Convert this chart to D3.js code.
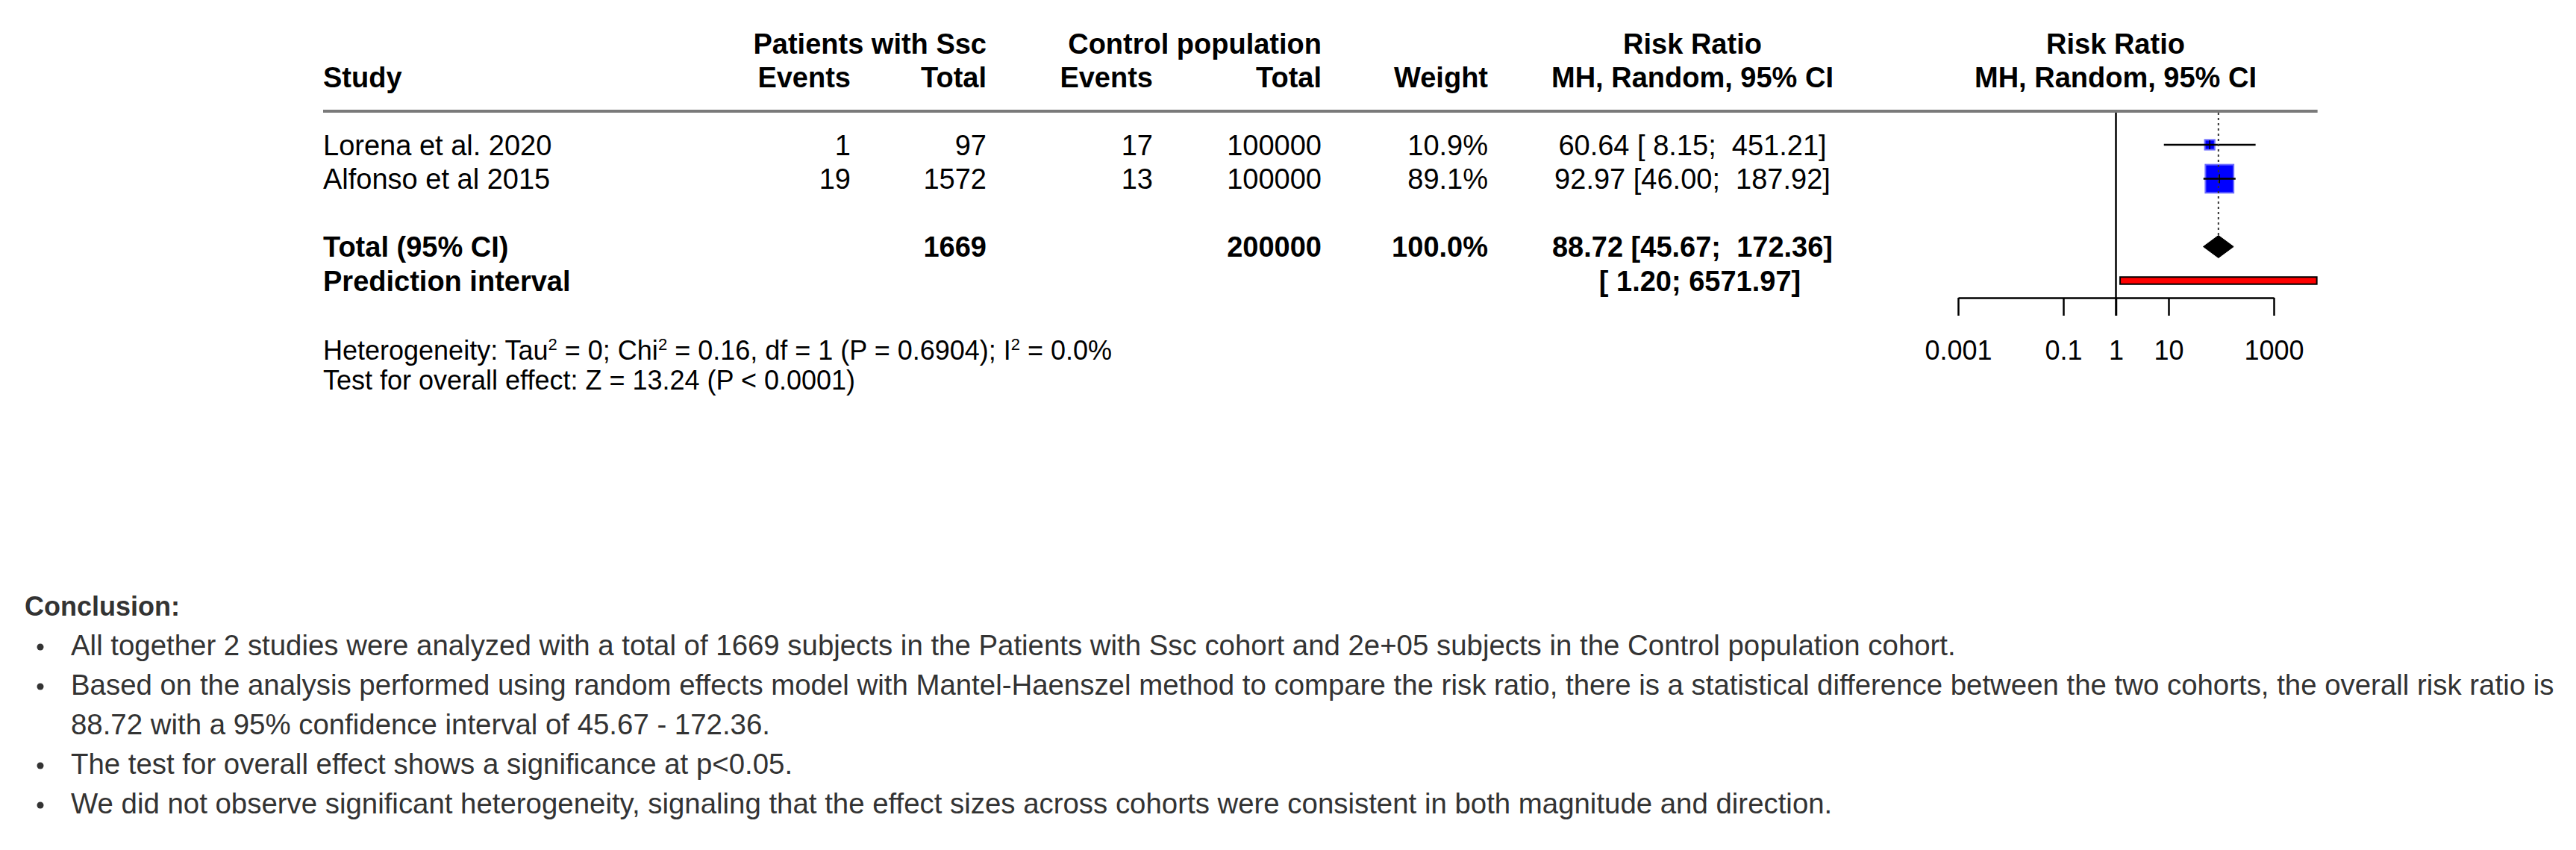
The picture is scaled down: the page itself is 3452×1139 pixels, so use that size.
<!DOCTYPE html>
<html><head><meta charset="utf-8">
<script src="https://cdn.jsdelivr.net/npm/d3@7"></script>
<style>
body{margin:0;background:#fff}
text{font-family:"Liberation Sans",Arial,Helvetica,sans-serif;white-space:pre}
</style>
</head><body>
<svg id="chart" width="3452" height="1139"></svg>
<script>
// ---------------- data ----------------
const studies   = ["Lorena et al. 2020", "Alfonso et al 2015"];
const expEvents = [1, 19];
const expTotal  = [97, 1572];
const ctlEvents = [17, 13];
const ctlTotal  = [100000, 100000];
const weights   = [10.9, 89.1];
const rr        = [60.64, 92.97];
const rrLower   = [8.15, 46.00];
const rrUpper   = [451.21, 187.92];
const pooledRR  = [88.72, 45.67, 172.36];      // estimate, lower, upper
const predInt   = [1.20, 6571.97];
const totalRow  = ["Total (95% CI)", "1669", "200000", "100.0%"];
const predLabel = "Prediction interval";
const headTop   = ["Patients with Ssc", "Control population", "Risk Ratio", "Risk Ratio"];
const headBot   = ["Study", "Events", "Total", "Events", "Total", "Weight", "MH, Random, 95% CI", "MH, Random, 95% CI"];
const tickValues = [0.001, 0.1, 1, 10, 1000];
const tickLabels = ["0.001", "0.1", "1", "10", "1000"];
const hetParts = [["Heterogeneity: Tau", 0], ["2", 1], [" = 0; Chi", 0], ["2", 1], [" = 0.16, df = 1 (P = 0.6904); I", 0], ["2", 1], [" = 0.0%", 0]];
const overallText = "Test for overall effect: Z = 13.24 (P < 0.0001)";
const conclusionTitle = "Conclusion:";
const conclusionLines = [
  ["All together 2 studies were analyzed with a total of 1669 subjects in the Patients with Ssc cohort and 2e+05 subjects in the Control population cohort.", true],
  ["Based on the analysis performed using random effects model with Mantel-Haenszel method to compare the risk ratio, there is a statistical difference between the two cohorts, the overall risk ratio is", true],
  ["88.72 with a 95% confidence interval of 45.67 - 172.36.", false],
  ["The test for overall effect shows a significance at p<0.05.", true],
  ["We did not observe significant heterogeneity, signaling that the effect sizes across cohorts were consistent in both magnitude and direction.", true]
];

// ---------------- helpers ----------------
const f2 = v => v.toFixed(2);
const padL = (s, n) => s.length >= n ? s : " ".repeat(n - s.length) + s;
const ciText = (e, lo, hi) => `${f2(e)} [${padL(f2(lo), 5)}; ${padL(f2(hi), 7)}]`;

const svg = d3.select("#chart");
const FS = 38;           // table font size
const capHalf = 13.5;    // half cap-height, to centre text on a row
const col = {label: 433, expE: 1140, expT: 1322, ctlE: 1545, ctlT: 1771, w: 1994, ci: 2268, plot: 2835};
const rowY = d3.scaleLinear().domain([0, 1]).range([194, 239.5]);
const x = d3.scaleLog().domain([0.001, 1000]).range([2624, 3047]);
const box = d3.scaleSqrt().domain([0, 100]).range([0, 40]);

function txt(g, px, py, s, anchor = "start", weight = "normal", size = FS, fill = "#000") {
  return g.append("text").attr("x", px).attr("y", py)
    .attr("text-anchor", anchor).attr("font-weight", weight)
    .attr("font-size", size).attr("fill", fill).text(s);
}

// ---------------- header ----------------
const head = svg.append("g");
txt(head, col.expT, 72, headTop[0], "end", "bold");
txt(head, col.ctlT, 72, headTop[1], "end", "bold");
txt(head, col.ci, 72, headTop[2], "middle", "bold");
txt(head, col.plot, 72, headTop[3], "middle", "bold");
const botX = [col.label, col.expE, col.expT, col.ctlE, col.ctlT, col.w, col.ci, col.plot];
const botA = ["start", "end", "end", "end", "end", "end", "middle", "middle"];
headBot.forEach((h, i) => txt(head, botX[i], 117, h, botA[i], "bold"));

svg.append("line").attr("x1", col.label).attr("x2", x(predInt[1]) + 1)
  .attr("y1", 149).attr("y2", 149).attr("stroke", "#7a7a7a").attr("stroke-width", 4);

// ---------------- study rows ----------------
const body = svg.append("g");
studies.forEach((s, i) => {
  const y = rowY(i) + capHalf;
  txt(body, col.label, y, s);
  txt(body, col.expE, y, String(expEvents[i]), "end");
  txt(body, col.expT, y, String(expTotal[i]), "end");
  txt(body, col.ctlE, y, String(ctlEvents[i]), "end");
  txt(body, col.ctlT, y, String(ctlTotal[i]), "end");
  txt(body, col.w, y, weights[i].toFixed(1) + "%", "end");
  txt(body, col.ci, y, ciText(rr[i], rrLower[i], rrUpper[i]), "middle");
});
// total + prediction
const yT = rowY(3) + capHalf, yP = rowY(4) + capHalf;
txt(body, col.label, yT, totalRow[0], "start", "bold");
txt(body, col.expT, yT, totalRow[1], "end", "bold");
txt(body, col.ctlT, yT, totalRow[2], "end", "bold");
txt(body, col.w, yT, totalRow[3], "end", "bold");
txt(body, col.ci, yT, ciText(pooledRR[0], pooledRR[1], pooledRR[2]), "middle", "bold");
txt(body, col.label, yP, predLabel, "start", "bold");
txt(body, col.ci + 10, yP, `[${padL(f2(predInt[0]), 5)}; ${f2(predInt[1])}]`, "middle", "bold");

// ---------------- forest ----------------
const fp = svg.append("g");
fp.append("rect").attr("x", x(predInt[0])).attr("y", rowY(4) - 4.75)
  .attr("width", x(predInt[1]) - x(predInt[0])).attr("height", 9.5)
  .attr("fill", "#ff0000").attr("stroke", "#000").attr("stroke-width", 2);
fp.append("line").attr("x1", x(1)).attr("x2", x(1)).attr("y1", 151).attr("y2", 423)
  .attr("stroke", "#000").attr("stroke-width", 2.5);
fp.selectAll("rect.sq").data(rr).join("rect").attr("class", "sq")
  .attr("x", (d, i) => x(d) - box(weights[i]) / 2)
  .attr("y", (d, i) => rowY(i) - box(weights[i]) / 2)
  .attr("width", (d, i) => box(weights[i])).attr("height", (d, i) => box(weights[i]))
  .attr("fill", "#0000ff").attr("stroke", "#6b6bff").attr("stroke-width", 2);
fp.selectAll("line.ci").data(rr).join("line").attr("class", "ci")
  .attr("x1", (d, i) => x(rrLower[i])).attr("x2", (d, i) => x(rrUpper[i]))
  .attr("y1", (d, i) => rowY(i)).attr("y2", (d, i) => rowY(i))
  .attr("stroke", "#000").attr("stroke-width", 2.5);
fp.selectAll("line.pt").data(rr).join("line").attr("class", "pt")
  .attr("x1", d => x(d)).attr("x2", d => x(d))
  .attr("y1", (d, i) => rowY(i) - 6).attr("y2", (d, i) => rowY(i) + 6)
  .attr("stroke", "#000").attr("stroke-width", 1.5);
fp.append("line").attr("x1", x(pooledRR[0])).attr("x2", x(pooledRR[0]))
  .attr("y1", 151).attr("y2", rowY(3) - 15)
  .attr("stroke", "#333").attr("stroke-width", 2).attr("stroke-dasharray", "3,4");
const yd = rowY(3);
fp.append("path").attr("d",
  `M${x(pooledRR[1])},${yd} L${x(pooledRR[0])},${yd - 15} L${x(pooledRR[2])},${yd} L${x(pooledRR[0])},${yd + 15} Z`)
  .attr("fill", "#000").attr("stroke", "#000").attr("stroke-width", 1);
const axis = d3.axisBottom(x).tickValues(tickValues)
  .tickFormat((d, i) => tickLabels[i]).tickSize(24).tickSizeOuter(0).tickPadding(33);
const ax = fp.append("g").attr("transform", "translate(0,399)").call(axis);
ax.select(".domain").attr("stroke", "#000").attr("stroke-width", 2.5);
ax.selectAll(".tick line").attr("stroke", "#000").attr("stroke-width", 2.5);
ax.selectAll(".tick text").attr("font-size", 36).attr("fill", "#000")
  .attr("font-family", '"Liberation Sans",Arial,sans-serif');

// ---------------- heterogeneity ----------------
const het = svg.append("g");
const ht = het.append("text").attr("x", col.label).attr("y", 482).attr("font-size", 36).attr("fill", "#000");
hetParts.forEach(([s, sup], i) => {
  const prevSup = i > 0 && hetParts[i - 1][1];
  ht.append("tspan").attr("dy", sup ? -13 : (prevSup ? 13 : 0))
    .attr("font-size", sup ? 22 : 36).text(s);
});
txt(het, col.label, 522, overallText, "start", "normal", 36);

// ---------------- conclusion ----------------
const con = svg.append("g");
txt(con, 33, 825, conclusionTitle, "start", "bold", 36, "#333");
const cy = d3.scaleLinear().domain([0, 1]).range([878, 931]);
conclusionLines.forEach(([s, bullet], i) => {
  const y = cy(i);
  if (bullet) con.append("circle").attr("cx", 54).attr("cy", y - 11).attr("r", 4.5).attr("fill", "#333");
  txt(con, 95, y, s, "start", "normal", 38.4, "#333");
});
</script>
</body></html>
